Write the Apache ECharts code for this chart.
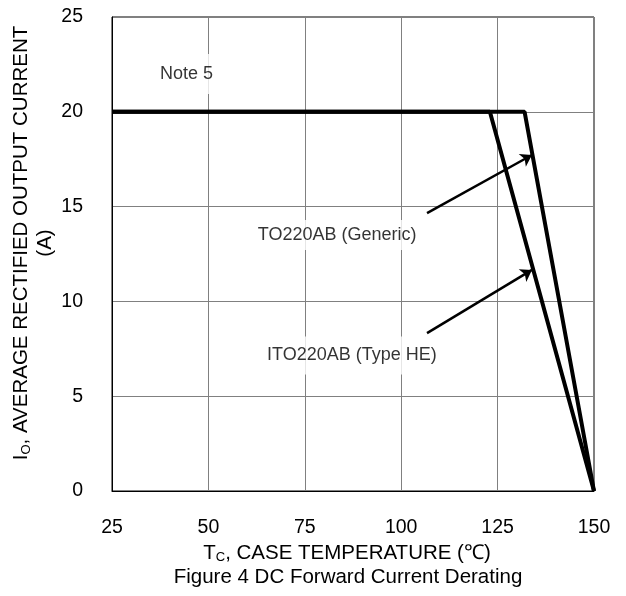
<!DOCTYPE html>
<html>
<head>
<meta charset="utf-8">
<script src="https://cdn.jsdelivr.net/npm/echarts@6/dist/echarts.min.js"></script>
<style>
  html, body { margin: 0; padding: 0; background: #fff; }
  #chart { width: 626px; height: 596px; }
</style>
</head>
<body>
<div id="chart"></div>
<script>
// derating curves
var tempGeneric = [25, 132, 150];
var currentGeneric = [20, 20, 0];
var tempTypeHE = [25, 123, 150];
var currentTypeHE = [20, 20, 0];

// arrows: [tail, head] in data units
var arrowGeneric = [[106.7, 14.66], [133.9, 17.72]];
var arrowTypeHE = [[106.7, 8.33], [133.9, 11.66]];

// annotation texts and where they sit (data units)
var noteTexts = ['Note 5', 'TO220AB (Generic)', 'ITO220AB (Type HE)'];
var noteX = [44.3, 83.4, 87.2];
var noteY = [22.0, 13.5, 7.15];

var FONT = 'Liberation Sans, Arial, sans-serif';
var FS_TICK = 19.5;
var FS_NAME = 20.5;
var FS_NOTE = 18;

function pairs(xs, ys) {
  var out = [];
  for (var i = 0; i < xs.length; i++) out.push([xs[i], ys[i]]);
  return out;
}

var notePad = [[11, 3], [6, 3], [10, 3]];
var noteData = noteTexts.map(function (t, i) {
  return {
    value: [noteX[i], noteY[i]],
    label: { formatter: t, padding: notePad[i] }
  };
});

var chart = echarts.init(document.getElementById('chart'));

chart.setOption({
  animation: false,
  backgroundColor: '#fff',
  textStyle: { fontFamily: FONT },
  grid: {
    left: 112, right: 32, top: 17, bottom: 105,
    outerBoundsMode: 'none', containLabel: false,
    show: true, borderColor: '#000', borderWidth: 1
  },
  xAxis: {
    type: 'value', min: 25, max: 150, interval: 25,
    name: '{a|T}{s|C}{a|, CASE TEMPERATURE (℃)}',
    nameLocation: 'middle', nameGap: 51, nameMoveOverlap: false,
    nameTextStyle: {
      padding: [0, 12, 0, 0],
      rich: {
        a: { fontSize: FS_NAME, color: '#000', fontFamily: FONT, lineHeight: 22 },
        s: { fontSize: 13, color: '#000', fontFamily: FONT, lineHeight: 22, verticalAlign: 'bottom', padding: [8, 0, 0, 0] }
      }
    },
    axisLine: { lineStyle: { color: '#000', width: 1 } },
    axisTick: { show: false },
    axisLabel: { color: '#000', fontSize: FS_TICK, margin: 27, fontFamily: FONT },
    splitLine: { show: true, lineStyle: { color: '#808080', width: 1 } }
  },
  yAxis: {
    type: 'value', min: 0, max: 25, interval: 5,
    name: '{a|I}{s|O}{a|, AVERAGE RECTIFIED OUTPUT CURRENT}\n{a|(A)}',
    nameLocation: 'middle', nameGap: 55, nameRotate: 90, nameMoveOverlap: false,
    nameTextStyle: {
      align: 'center',
      padding: [0, 0, 0, 22],
      rich: {
        a: { fontSize: FS_NAME, color: '#000', fontFamily: FONT, lineHeight: 24, align: 'center' },
        s: { fontSize: 13, color: '#000', fontFamily: FONT, lineHeight: 24, verticalAlign: 'bottom', padding: [8, 0, 0, 0] }
      }
    },
    axisLine: { lineStyle: { color: '#000', width: 1 } },
    axisTick: { show: false },
    axisLabel: { color: '#000', fontSize: FS_TICK, margin: 29, fontFamily: FONT },
    splitLine: { show: true, lineStyle: { color: '#808080', width: 1 } }
  },
  graphic: [{
    type: 'text', x: 348, y: 567,
    style: {
      text: 'Figure 4 DC Forward Current Derating',
      fill: '#000', font: FS_NAME + 'px ' + FONT, textAlign: 'center'
    }
  }],
  series: [
    {
      type: 'scatter', symbolSize: 0, z: 3,
      data: noteData,
      label: {
        show: true, position: 'inside', color: '#000', fontSize: FS_NOTE,
        fontFamily: FONT, backgroundColor: '#fff'
      },
      silent: true
    },
    {
      name: 'TO220AB (Generic)', type: 'line', showSymbol: false, z: 4,
      data: pairs(tempGeneric, currentGeneric),
      lineStyle: { color: '#000', width: 4 }
    },
    {
      name: 'ITO220AB (Type HE)', type: 'line', showSymbol: false, z: 4,
      data: pairs(tempTypeHE, currentTypeHE),
      lineStyle: { color: '#000', width: 4 },
      markLine: {
        silent: true, symbol: ['none', 'arrow'], symbolSize: 11,
        label: { show: false },
        lineStyle: { color: '#000', width: 2.5, type: 'solid' },
        data: [
          [{ coord: arrowGeneric[0] }, { coord: arrowGeneric[1] }],
          [{ coord: arrowTypeHE[0] }, { coord: arrowTypeHE[1] }]
        ]
      }
    }
  ]
});
</script>
</body>
</html>
